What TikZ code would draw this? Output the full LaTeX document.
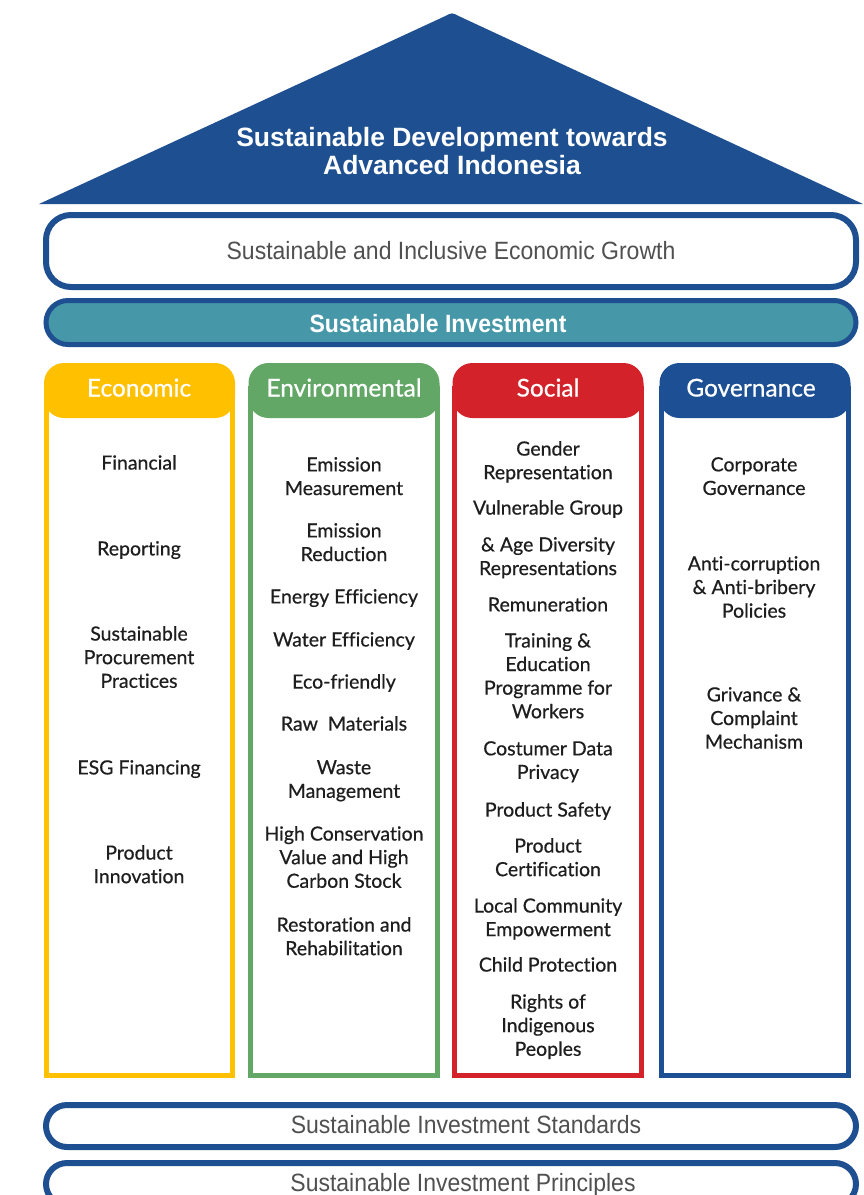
\documentclass[tikz,border=0pt]{standalone}
\usepackage{fontspec}
\setmainfont{Lato}
\newfontfamily\itemfont[FakeBold=0.6,Ligatures=NoCommon]{Lato}
\newfontfamily\rooffont{Liberation Sans}
\newfontfamily\bannerfont[FakeStretch=0.92]{Liberation Sans}
\usetikzlibrary{positioning}
\definecolor{roofblue}{HTML}{1D4F91}
\definecolor{invteal}{HTML}{4698A8}
\definecolor{ecoyellow}{HTML}{FFC000}
\definecolor{envgreen}{HTML}{62A766}
\definecolor{socred}{HTML}{D4222A}
\definecolor{govblue}{HTML}{1C4F93}
\definecolor{bannergray}{HTML}{505050}
\definecolor{itemgray}{HTML}{1E1E1E}
\tikzset{%
        banner/.style = {draw=roofblue, line width=6pt, minimum width=810pt, inner sep=0pt},
        bannertext/.style = {text=bannergray, font=\fontsize{25}{28}\bannerfont, inner sep=0pt},
        pillar/.style = {draw=#1, line width=5pt},
        head/.style = {fill=#1, rounded corners=20pt, minimum width=191pt, minimum height=55pt,
                inner sep=0pt, text height=17pt, text depth=5pt, text=white,
                font=\fontsize{24.5}{28}\itemfont},
        item/.style = {align=center, anchor=north, inner sep=0pt, text=itemgray,
                font=\fontsize{19.5}{23.6}\itemfont}
}

\begin{document}
\begin{tikzpicture}[x=1pt,y=-1pt]
        \useasboundingbox (0,0) rectangle (864,1195);
        \clip (0,0) rectangle (864,1195);
        \fill[roofblue] (39,204) -- (445,16.2) .. controls (452,12.5) .. (459,16.2) -- (863,204) -- cycle;
        \node[align=center, anchor=north, inner sep=0pt, text=white,
                font=\fontsize{26.5}{28}\rooffont\bfseries] (roof) at (452,127.5)
                {Sustainable Development towards\\Advanced Indonesia};

        \node[banner, rounded corners=25pt, minimum height=72pt, fill=white,
                bannertext] (growth) at (451,251) {Sustainable and Inclusive Economic Growth};
        \node[banner, line width=5pt, rounded corners=22pt, minimum height=44pt, fill=invteal,
                text=white, font=\fontsize{25}{28}\bannerfont\bfseries] (invest) at (451,322.5) {};
        \node[text=white, font=\fontsize{25}{28}\bannerfont\bfseries, inner sep=0pt]
                (investtext) at (438,324) {Sustainable Investment};

        \foreach \n/\c/\xa/\xb/\xt/\ttl in {eco/ecoyellow/44/235/139/Economic,
                env/envgreen/248/440/344/Environmental, soc/socred/452/644/548/Social,
                gov/govblue/659/851/751/Governance} {
                \draw[pillar=\c] (\xa+2.5,388) rectangle (\xb-2.5,1075.5);
                \node[head=\c] (\n) at ({(\xa+\xb)/2},390.5) {};
                \node[text=white, text height=17pt, text depth=5pt, inner sep=0pt,
                        font=\fontsize{24.5}{28}\itemfont] (\n t) at (\xt,390.5) {\ttl};
        }

        \foreach \y/\txt [count=\i] in {462/Financial, 548/Reporting,
                633/{Sustainable\\Procurement\\Practices}, 767/ESG Financing,
                852/{Product\\Innovation}}
                \node[item] (eco\i) at (139,\y-7) {\txt};
        \foreach \y/\txt [count=\i] in {464/{Emission\\Measurement}, 530/{Emission\\Reduction},
                596/Energy Efficiency, 639/Water Efficiency, 681/Eco-friendly,
                723/Raw~~Materials, 767/{Waste\\Management},
                833/{High Conservation\\Value and High\\Carbon Stock},
                924/{Restoration and\\Rehabilitation}}
                \node[item] (env\i) at (344,\y-7) {\txt};
        \foreach \y/\txt [count=\i] in {448/{Gender\\Representation}, 507/Vulnerable Group,
                544/{\&~Age Diversity\\Representations}, 604/Remuneration,
                640/{Training \&\\Education\\Programme for\\Workers},
                748/{Costumer Data\\Privacy}, 809/Product Safety,
                845/{Product\\Certification}, 905/{Local Community\\Empowerment},
                964/Child Protection, 1001/{Rights of\\Indigenous\\Peoples}}
                \node[item] (soc\i) at (548,\y-7) {\txt};
        \foreach \y/\txt [count=\i] in {464/{Corporate\\Governance},
                563/{Anti-corruption\\\&~Anti-bribery\\Policies},
                694/{Grivance \&\\Complaint\\Mechanism}}
                \node[item] (gov\i) at (754,\y-7) {\txt};

        \node[banner, rounded corners=21pt, minimum height=42pt] (standards) at (451,1126) {};
        \node[bannertext] (standardstext) at (466,1125) {Sustainable Investment Standards};
        \node[banner, rounded corners=21pt, minimum height=42pt] (principles) at (451,1184) {};
        \node[bannertext] (principlestext) at (463,1185) {Sustainable Investment Principles};
\end{tikzpicture}
\end{document}
